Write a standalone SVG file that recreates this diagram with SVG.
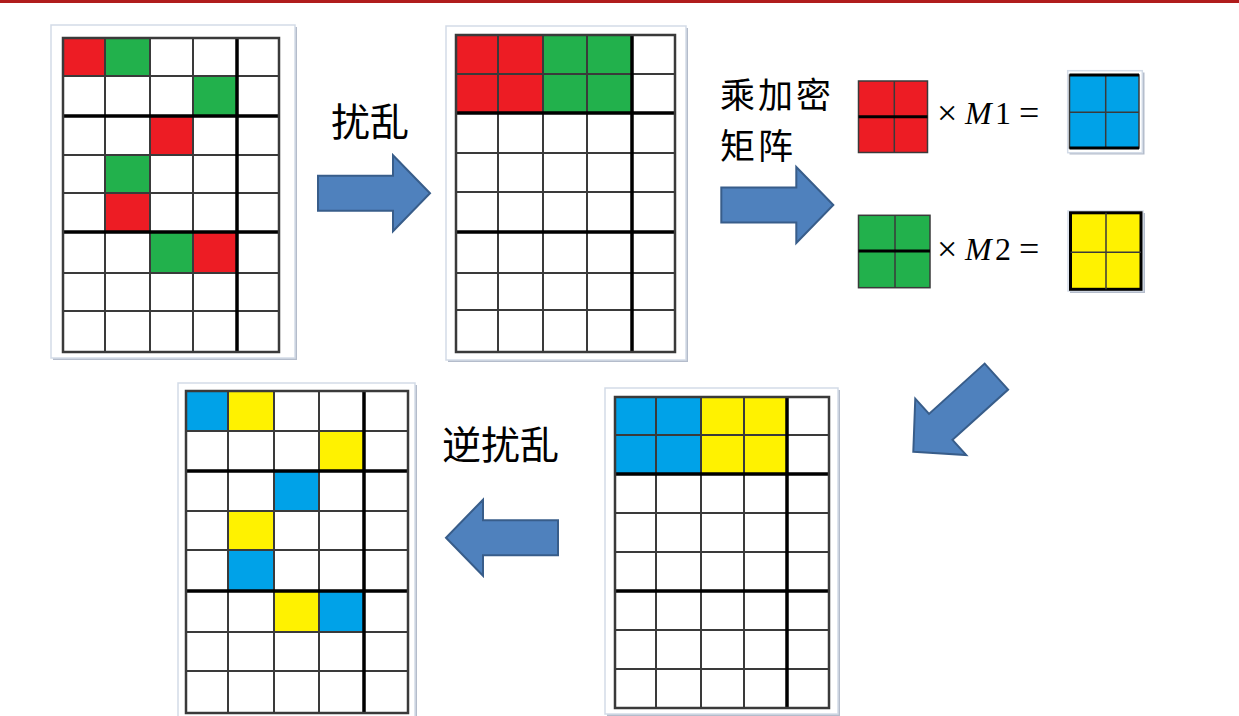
<svg xmlns="http://www.w3.org/2000/svg" xmlns:xlink="http://www.w3.org/1999/xlink" width="1239" height="716" viewBox="0 0 1239 716">
<style>
.frame{fill:#ffffff;stroke:#d3dbe7;stroke-width:1.5}
.shadow{fill:#b4bccb}
.thin{stroke:#3a3a3a;stroke-width:2;fill:none}
.thick{stroke:#000000;stroke-width:3.5;fill:none}
.border{stroke:#3a3a3a;stroke-width:2.5;fill:none}
.r{fill:#ed1c24}
.g{fill:#22b14c}
.b{fill:#00a2e8}
.y{fill:#fff200}
.arrow{fill:#4f81bd;stroke:#385d8a;stroke-width:2;stroke-linejoin:miter}
.cjk{font-family:"Noto Sans CJK SC","Noto Sans CJK JP",sans-serif;font-size:39px;fill:#000}
.cjk2{font-family:"Noto Sans CJK SC","Noto Sans CJK JP",sans-serif;font-size:35px;letter-spacing:3px;fill:#000}
.math{font-family:"Liberation Serif","Times New Roman",serif;font-size:32px;fill:#000}
.op{font-size:36px}
</style>
<defs>
<path id="arr" d="M0,0 L-37,-38 L-37,-17.5 L-112,-17.5 L-112,17.5 L-37,17.5 L-37,38 Z"/>
</defs>
<rect x="0" y="0" width="1239" height="716" fill="#ffffff"/>
<rect x="0" y="0" width="1239" height="3" fill="#b01c1c"/>

<g id="grid1">
<rect class="shadow" x="53" y="27" width="244" height="333"/>
<rect class="frame" x="51" y="25" width="244" height="333"/>
<rect x="63" y="38" width="216" height="314" fill="#fff"/>
<rect class="r" x="63" y="38" width="42" height="38"/>
<rect class="g" x="105" y="38" width="45" height="38"/>
<rect class="g" x="193" y="76" width="44" height="40"/>
<rect class="r" x="150" y="116" width="43" height="39"/>
<rect class="g" x="105" y="155" width="45" height="38"/>
<rect class="r" x="105" y="193" width="45" height="39"/>
<rect class="g" x="150" y="232" width="43" height="41"/>
<rect class="r" x="193" y="232" width="44" height="41"/>
<path class="thin" d="M105,38V352M150,38V352M193,38V352M63,76H279M63,155H279M63,193H279M63,273H279M63,311H279"/>
<path class="thick" d="M237,38V352M63,116H279M63,232H279"/>
<rect class="border" x="63" y="38" width="216" height="314"/>
</g>

<g id="grid2">
<rect class="shadow" x="448" y="28" width="240" height="334"/>
<rect class="frame" x="446" y="26" width="240" height="334"/>
<rect x="456" y="35" width="219" height="317" fill="#fff"/>
<rect class="r" x="456" y="35" width="87" height="78"/>
<rect class="g" x="543" y="35" width="89" height="78"/>
<path class="thin" d="M498,35V352M543,35V352M587,35V352M456,74H675M456,153H675M456,192H675M456,273H675M456,310H675"/>
<path class="thick" d="M632,35V352M456,113H675M456,232H675"/>
<rect class="border" x="456" y="35" width="219" height="317"/>
</g>

<g id="grid3">
<rect class="shadow" x="180" y="385" width="237" height="340"/>
<rect class="frame" x="178" y="383" width="237" height="340"/>
<rect x="186" y="391" width="222" height="322" fill="#fff"/>
<rect class="b" x="186" y="391" width="42" height="40"/>
<rect class="y" x="228" y="391" width="46" height="40"/>
<rect class="y" x="319" y="431" width="45" height="40"/>
<rect class="b" x="274" y="471" width="45" height="40"/>
<rect class="y" x="228" y="511" width="46" height="39"/>
<rect class="b" x="228" y="550" width="46" height="41"/>
<rect class="y" x="274" y="591" width="45" height="41"/>
<rect class="b" x="319" y="591" width="45" height="41"/>
<path class="thin" d="M228,391V713M274,391V713M319,391V713M186,431H408M186,511H408M186,550H408M186,632H408M186,671H408"/>
<path class="thick" d="M364,391V713M186,471H408M186,591H408"/>
<rect class="border" x="186" y="391" width="222" height="322"/>
</g>

<g id="grid4">
<rect class="shadow" x="607" y="390" width="233" height="326"/>
<rect class="frame" x="605" y="388" width="233" height="326"/>
<rect x="615" y="397" width="214" height="311" fill="#fff"/>
<rect class="b" x="615" y="397" width="86" height="77"/>
<rect class="y" x="701" y="397" width="86" height="77"/>
<path class="thin" d="M656,397V708M701,397V708M744,397V708M615,435H829M615,513H829M615,552H829M615,630H829M615,669H829"/>
<path class="thick" d="M787,397V708M615,474H829M615,591H829"/>
<rect class="border" x="615" y="397" width="214" height="311"/>
</g>

<g id="block-red">
<rect class="r" x="858.5" y="81" width="69" height="71.5" stroke="#3a3a3a" stroke-width="1.5"/>
<path class="thin" style="stroke-width:1.5" d="M894.3,81V152.5"/>
<path class="thick" style="stroke-width:3" d="M858.5,116.7H927.5"/>
</g>

<g id="block-blue">
<rect class="shadow" x="1069.5" y="72.5" width="75" height="82"/>
<rect class="frame" x="1067.7" y="70.7" width="74.6" height="82"/>
<rect class="b" x="1069.5" y="75" width="69.5" height="73" stroke="#3a3a3a" stroke-width="1.5"/>
<path class="thin" style="stroke-width:1.5" d="M1105.7,75V148M1069.5,112.3H1139"/>
<path class="thick" style="stroke-width:3" d="M1069.5,75H1139M1069.5,148H1139"/>
</g>

<g id="block-green">
<rect class="g" x="858.5" y="215.3" width="71.5" height="72.4" stroke="#3a3a3a" stroke-width="1.5"/>
<path class="thin" style="stroke-width:1.5" d="M895,215.3V287.7"/>
<path class="thick" style="stroke-width:3" d="M858.5,251H930"/>
</g>

<g id="block-yellow">
<rect class="shadow" x="1070" y="213" width="75" height="80"/>
<rect class="frame" x="1068" y="211" width="75" height="80"/>
<rect class="y" x="1070.5" y="212.8" width="70.5" height="76.5" stroke="#000" stroke-width="3"/>
<path class="thin" style="stroke-width:1.5" d="M1106,212.8V289.3M1070.5,252.3H1141"/>
</g>

<g id="eq1" class="math">
<text class="op" x="937" y="125">×</text>
<text x="965" y="124" font-style="italic">M</text>
<text x="995" y="124">1</text>
<text class="op" x="1019" y="125">=</text>
</g>
<g id="eq2" class="math">
<text class="op" x="937" y="261">×</text>
<text x="965" y="260" font-style="italic">M</text>
<text x="995" y="260">2</text>
<text class="op" x="1019" y="261">=</text>
</g>

<g id="labels">
<text class="cjk" x="331" y="136">扰乱</text>
<text class="cjk2" x="720" y="108">乘加密</text>
<text class="cjk2" x="720" y="159">矩阵</text>
<text class="cjk" x="442" y="459">逆扰乱</text>
</g>

<g id="connectors">
<use xlink:href="#arr" class="arrow" transform="translate(430,193.3)"/>
<use xlink:href="#arr" class="arrow" transform="translate(833.3,205)"/>
<use xlink:href="#arr" class="arrow" transform="translate(913.3,451.7) rotate(137.9)"/>
<use xlink:href="#arr" class="arrow" transform="translate(446,537.7) rotate(180)"/>
</g>
</svg>
